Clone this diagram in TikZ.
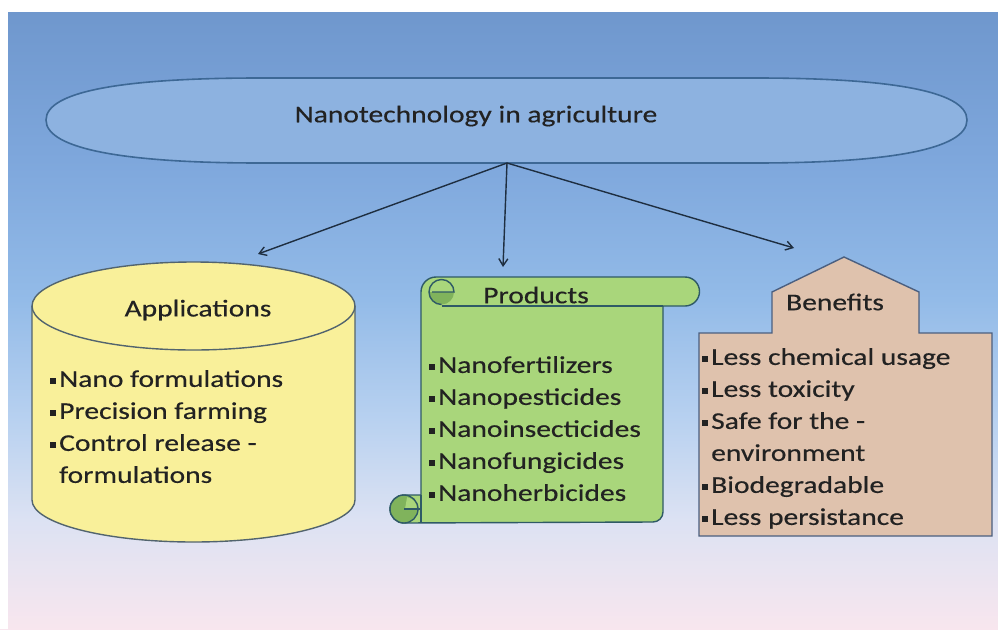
\documentclass[tikz,border=0pt]{standalone}
\usepackage{fontspec}
\setmainfont{Carlito}[FakeStretch=1.23,FakeBold=0.4]
\usetikzlibrary{arrows.meta}
\definecolor{bgT}{HTML}{6E96CC}
\definecolor{bgA}{HTML}{7EA7DC}
\definecolor{bgB}{HTML}{93BBE8}
\definecolor{bgC}{HTML}{B8D1F0}
\definecolor{bgD}{HTML}{DCE2F3}
\definecolor{bgE}{HTML}{F8E6EE}
\definecolor{ellF}{HTML}{8DB2E0}
\definecolor{ellC}{HTML}{3D6895}
\definecolor{cylF}{HTML}{F9F09A}
\definecolor{cylC}{HTML}{52646E}
\definecolor{scrF}{HTML}{A9D67B}
\definecolor{scrD}{HTML}{80B35C}
\definecolor{scrC}{HTML}{2F5A66}
\definecolor{benF}{HTML}{DFC2AD}
\definecolor{benC}{HTML}{4B5F80}
\definecolor{txt}{HTML}{222222}
\definecolor{arr}{HTML}{1E2E40}
\newcommand\bul{\rule[2.8pt]{6pt}{6pt}\hspace{3pt}}
\newcommand\nobul{\hphantom{\bul}}
\begin{document}
\begin{tikzpicture}[x=1pt,y=-1pt,
  lbl/.style={font=\fontsize{24}{32}\selectfont, text=txt, inner sep=0pt},
  lst/.style={lbl, align=left, anchor=north west},
  link/.style={draw=arr, line width=1.4pt, -{Straight Barb[length=7pt,width=9pt,line width=1.4pt]}},
  shapeline/.style={line width=1.4pt}]
\useasboundingbox (0,0) rectangle (998,629);
\fill[bgE] (0,0) rectangle (998,629);
% background gradient drawn as stacked bands
\shade[top color=bgT, bottom color=bgA] (0,0) rectangle (998,160);
\shade[top color=bgA, bottom color=bgB] (0,159.5) rectangle (998,300);
\shade[top color=bgB, bottom color=bgC] (0,299.5) rectangle (998,420);
\shade[top color=bgC, bottom color=bgD] (0,419.5) rectangle (998,520);
\shade[top color=bgD, bottom color=bgE] (0,519.5) rectangle (998,629);
\fill[white] (0,0) rectangle (998,12);
\fill[white] (0,0) rectangle (8,629);

% top flattened ellipse
\draw[ellC, fill=ellF, line width=1.6pt] (46,120) .. controls (46,90) and (130,78) .. (260,78) -- (755,78)
  .. controls (885,78) and (967,90) .. (967,120) .. controls (967,150) and (885,163) .. (755,163)
  -- (260,163) .. controls (130,163) and (46,150) .. (46,120) -- cycle;
\node[lbl] (toptext) at (476,116) {Nanotechnology in agriculture};
\coordinate (hub) at (507,163);

% cylinder (Applications)
\fill[cylF] (32,306) -- (32,500) arc[start angle=180,end angle=0,x radius=161.5,y radius=42] -- (355,306) -- cycle;
\draw[cylC, shapeline] (32,306) -- (32,500) arc[start angle=180,end angle=0,x radius=161.5,y radius=42] -- (355,306);
\draw[cylC, fill=cylF, shapeline] (193.5,306) ellipse [x radius=161.5, y radius=44];
\node[lbl] (app) at (198,310) {Applications};
\node[lst] (applist) at (50,370) {\bul Nano formulations\\ \bul Precision farming\\ \bul Control release -\\ \nobul formulations};

% scroll (Products)
\draw[scrC, fill=scrF, shapeline] (437,277) -- (685,277) arc[start angle=-90,end angle=90,radius=14.5]
  -- (663,306) -- (663,512) arc[start angle=0,end angle=90,radius=10]
  -- (404,523) arc[start angle=90,end angle=270,radius=14] -- (421,495) -- (421,292)
  arc[start angle=180,end angle=270,radius=15] -- cycle;
% top curl
\fill[scrD] (429,292) arc[start angle=180,end angle=0,radius=12.5] -- cycle;
\draw[scrC, shapeline] (441.5,306) -- (663,306);
\draw[scrC, shapeline] (441.5,304.5) arc[start angle=90,end angle=360,radius=12.5] -- (432,292);
% bottom curl
\draw[scrC, fill=scrD, shapeline] (404,509) circle[radius=14];
\fill[scrF] (405,509) -- (417,509) arc[start angle=0,end angle=-80,radius=12] -- cycle;
\draw[scrC, shapeline] (404,509) -- (421,509);
\draw[scrC, shapeline] (421,495) -- (421,523);
\node[lbl] (prod) at (536,295) {Products};
\node[lst] (prodlist) at (429,356) {\bul Nanofertilizers\\ \bul Nanopesticides\\ \bul Nanoinsecticides\\ \bul Nanofungicides\\ \bul Nanoherbicides};

% house (Benefits)
\draw[benC, fill=benF, shapeline] (699,333) -- (772,333) -- (772,292) -- (844,257) -- (919,292)
  -- (919,333) -- (992,333) -- (992,536) -- (699,536) -- cycle;
\node[lbl] (ben) at (835,302) {Benefits};
\node[lst] (benlist) at (702,348) {\bul Less chemical usage\\ \bul Less toxicity\\ \bul Safe for the -\\ \nobul environment\\ \bul Biodegradable\\ \bul Less persistance};

% connectors
\coordinate (appin) at (258,254);
\coordinate (prodin) at (503,267);
\coordinate (benin) at (794,248);
\draw[link] (hub) -- (appin);
\draw[link] (hub) -- (prodin);
\draw[link] (hub) -- (benin);
\end{tikzpicture}
\end{document}
